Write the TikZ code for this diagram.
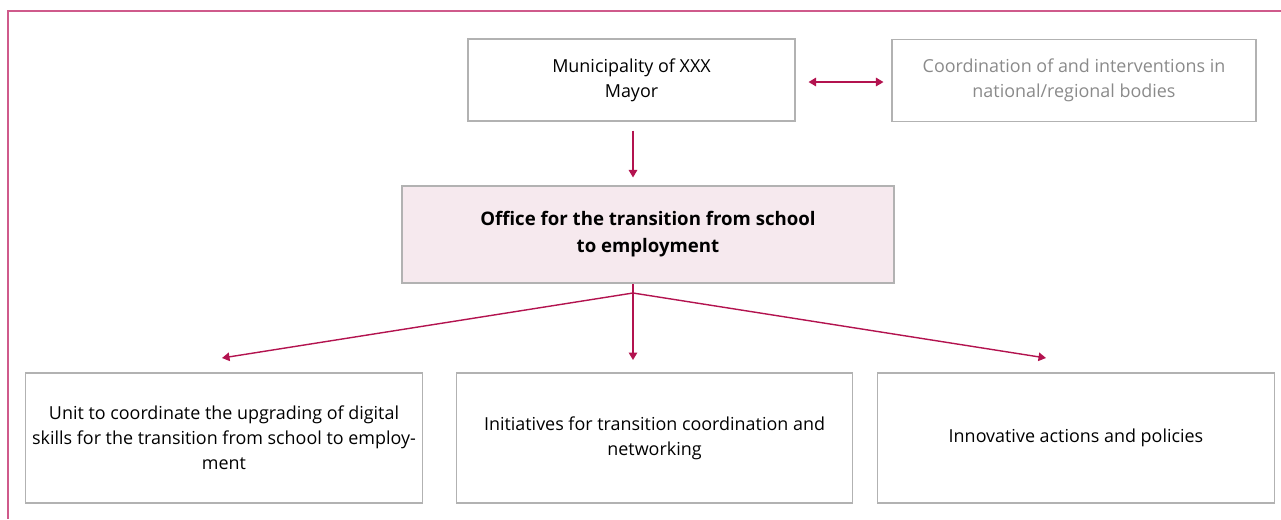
\documentclass[tikz,border=0pt]{standalone}
\usepackage{fontspec}
\setmainfont{Open Sans}
\usetikzlibrary{positioning,arrows.meta}

\definecolor{framepink}{HTML}{CF5A8B}
\definecolor{arrowred}{HTML}{B3134F}
\definecolor{boxgray}{HTML}{B2B2B2}
\definecolor{textgray}{HTML}{8A8A8A}
\definecolor{officefill}{HTML}{F6E9EE}

\begin{document}
\begin{tikzpicture}[
      every node/.style={
        rectangle,
        draw=boxgray,
        line width=0.6pt,
        align=center,
        inner sep=2pt,
        font=\fontsize{10.2}{14.3}\selectfont
      },
      topbox/.style={
        minimum width=6.54cm,
        minimum height=1.64cm
      },
      unitbox/.style={
        minimum width=7.93cm,
        minimum height=2.60cm
      },
      link/.style={
        draw=arrowred,
        line width=0.8pt,
        -{Triangle[length=1.5mm,width=1.7mm]}
      }
    ]
      \useasboundingbox (0,0) rectangle (25.62,-10.38);

      \draw[framepink, line width=1.1pt] (25.62,-0.22) -- (0.16,-0.22) -- (0.16,-10.38);

      \node[topbox] (mayor) at (12.63,-1.60) {Municipality of XXX\\Mayor};
      \node[topbox, minimum width=7.28cm, text=textgray] (bodies) at (21.48,-1.61)
        {Coordination of and interventions in\\national/regional bodies};

      \node[
        fill=officefill,
        minimum width=9.84cm,
        minimum height=1.94cm,
        font=\fontsize{10.6}{15.3}\selectfont\bfseries
      ] (office) at (12.96,-4.69)
        {Office for the transition from school\\to employment};

      \node[unitbox] (skills) at (4.48,-8.76)
        {Unit to coordinate the upgrading of digital\\skills for the transition from school to employ-\\ment};
      \node[unitbox] (network) at (13.09,-8.76)
        {Initiatives for transition coordination and\\networking};
      \node[unitbox] (actions) at (21.52,-8.76)
        {Innovative actions and policies};

      \coordinate (hub) at (12.66,-5.86);
      \coordinate (skillsend) at (4.44,-7.16);
      \coordinate (networkend) at (12.66,-7.20);
      \coordinate (actionsend) at (20.92,-7.16);

      \draw[link, {Triangle[length=1.5mm,width=1.7mm]}-{Triangle[length=1.5mm,width=1.7mm]},
        shorten <=2.6mm, shorten >=1.6mm] (mayor.east |- 0,-1.64) -- (bodies.west |- 0,-1.64);
      \draw[link, shorten <=1.8mm, shorten >=1.6mm] (mayor.south -| hub) -- (office.north -| hub);

      \draw[arrowred, line width=0.8pt] (hub) -- (office.south -| hub);
      \draw[link] (hub) -- (skillsend);
      \draw[link] (hub) -- (networkend);
      \draw[link] (hub) -- (actionsend);
    \end{tikzpicture}
\end{document}
